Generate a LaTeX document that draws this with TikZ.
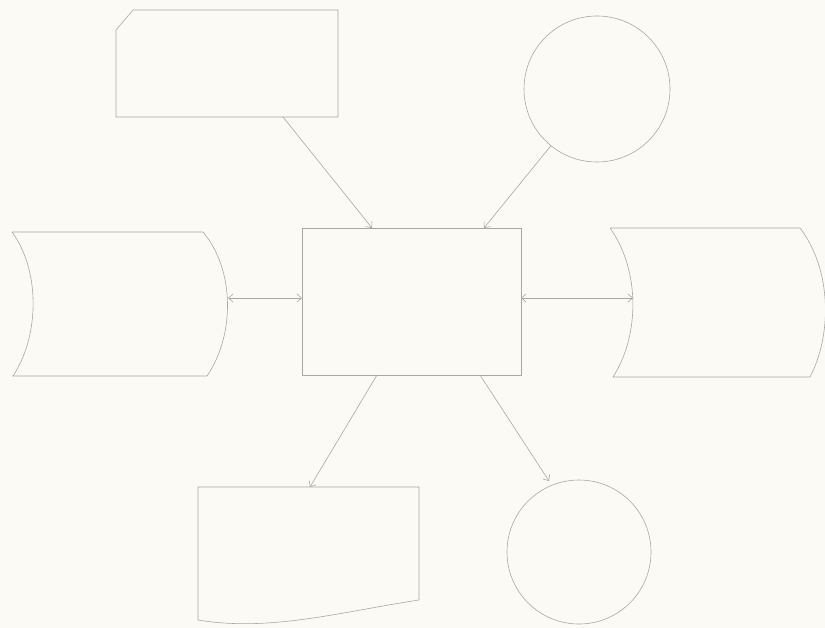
\documentclass[tikz,border=0pt]{standalone}
\usetikzlibrary{arrows.meta}
\definecolor{paper}{HTML}{FBFAF5}
\definecolor{pencil}{HTML}{A9A7A1}
\begin{document}
\begin{tikzpicture}[x=0.03cm,y=-0.03cm,
  pencil/.style={draw=pencil, line width=0.5pt},
  tipv/.tip={Straight Barb[length=4pt,width=7pt]},
  flow/.style={pencil, -tipv},
  biflow/.style={pencil, tipv-tipv},
  ring/.style={pencil, circle, inner sep=0pt, minimum size=#1}]
\fill[paper] (0,0) rectangle (825,628);
\useasboundingbox (0,0) rectangle (825,628);
% card (top left)
\draw[pencil] (133,10) -- (338,10) -- (338,117) -- (116,117) -- (116,30) -- cycle;
\coordinate (cardout) at (283,117);
% top connector circle
\node[ring=4.38cm] (topc) at (597,89) {};
% central process
\draw[pencil] (302,228) rectangle (521,375);
\coordinate (procA) at (372,228);
\coordinate (procB) at (484,228);
\coordinate (procL) at (302,298);
\coordinate (procR) at (521,298);
\coordinate (procC1) at (377,375);
\coordinate (procC2) at (480,375);
% left stored data
\draw[pencil] (12,232) -- (203,232) .. controls (235,270) and (235,335) .. (207,376)
  -- (13,376) .. controls (40,335) and (40,270) .. (12,232);
\coordinate (lstore) at (228,298);
% right stored data
\draw[pencil] (610,228) -- (800,228) .. controls (832,270) and (832,335) .. (810,377)
  -- (613,377) .. controls (640,335) and (640,270) .. (610,228);
\coordinate (rstore) at (633,298);
% document (bottom left)
\draw[pencil] (198,487) -- (419,487) -- (419,600)
  .. controls (340,612) and (270,632) .. (198,620) -- cycle;
\coordinate (docin) at (310,487);
% bottom connector circle
\node[ring=4.32cm] (botc) at (579,552) {};
\coordinate (botin) at (549,481);
% connectors
\draw[flow] (cardout) -- (procA);
\draw[flow] (topc) -- (procB);
\draw[biflow] (lstore) -- (procL);
\draw[biflow] (procR) -- (rstore);
\draw[flow] (procC1) -- (docin);
\draw[flow] (procC2) -- (botin);
\end{tikzpicture}
\end{document}
